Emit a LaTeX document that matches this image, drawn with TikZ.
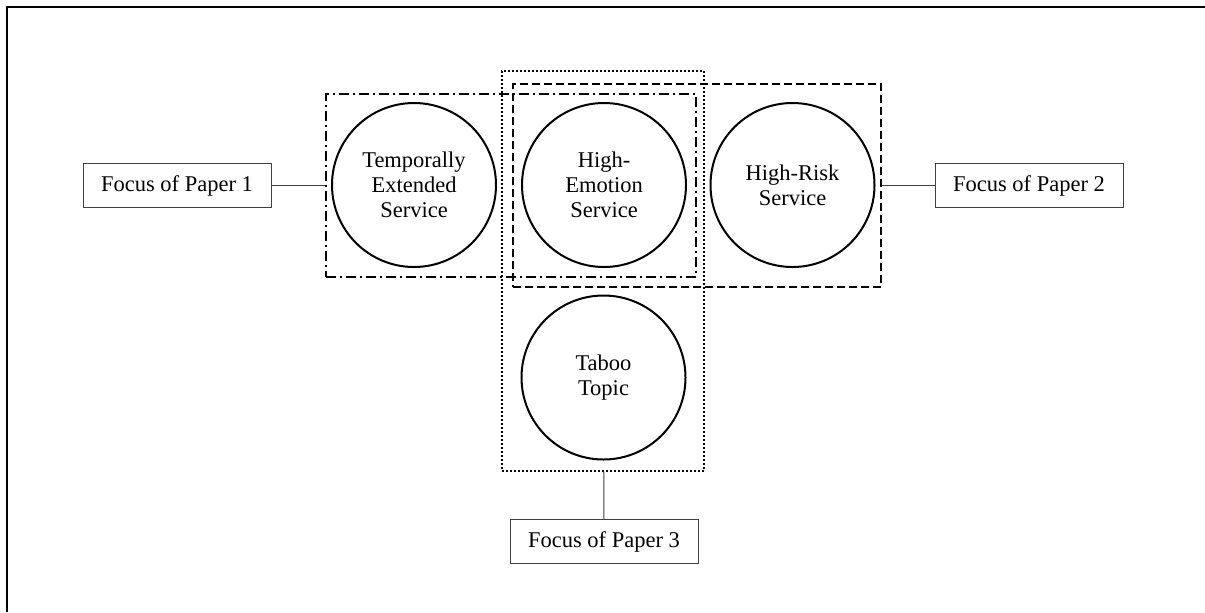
\documentclass[tikz,border=0pt]{standalone}
\usepackage{fontspec}
\setmainfont{Liberation Serif}
\tikzset{
  topic/.style={draw,circle,line width=1pt,minimum size=82pt,inner sep=0pt,align=center,
    font=\fontsize{11.25}{12.5}\selectfont},
  focus/.style={draw=black!75,line width=0.5pt,minimum width=94pt,minimum height=22pt,inner sep=0pt,
    font=\fontsize{11.25}{12.5}\selectfont},
  group/.style={draw,line width=0.9pt,inner sep=0pt},
  dashdotline/.style={dash pattern=on 5pt off 2pt on 1pt off 2pt},
  dashline/.style={dash pattern=on 4pt off 2pt},
  dotline/.style={dash pattern=on 0.8pt off 1.2pt},
  link/.style={draw=black!75,line width=0.5pt},
}
\begin{document}
\begin{tikzpicture}[x=0.5pt,y=-0.5pt]
\useasboundingbox (0,0) rectangle (1205,612);
% frame
\draw[line width=1pt] (7,612) -- (7,7) -- (1205,7);
% groups of the three papers
\node[group,dashdotline,minimum width=185pt,minimum height=91.5pt] (g1) at (511,185.5) {};
\node[group,dashline,minimum width=184pt,minimum height=101.5pt] (g2) at (697,185.5) {};
\node[group,dotline,minimum width=101pt,minimum height=200pt] (g3) at (603,271) {};
% topics
\node[topic] (temp) at (414,185) {Temporally\\Extended\\Service};
\node[topic] (emo) at (604,185) {High-\\Emotion\\Service};
\node[topic] (risk) at (792.5,185) {High-Risk\\Service};
\node[topic] (taboo) at (603.5,377.5) {Taboo\\Topic};
% labels
\node[focus] (f1) at (177,185.5) {Focus of Paper 1};
\node[focus] (f2) at (1029,185.5) {Focus of Paper 2};
\node[focus] (f3) at (604,541.5) {Focus of Paper 3};
\draw[link] (f1) -- (g1);
\draw[link] (g2) -- (f2);
\draw[link] (g3) -- (f3);
\end{tikzpicture}
\end{document}
